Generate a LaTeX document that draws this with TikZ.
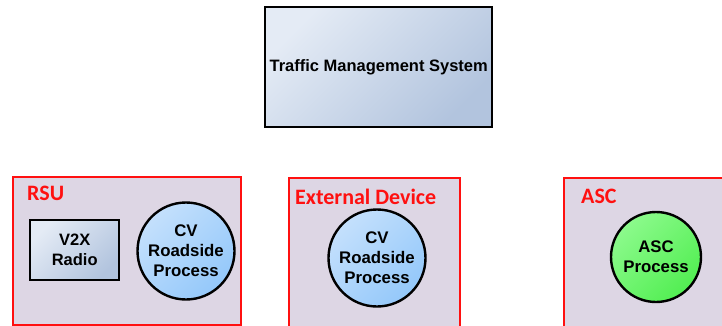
\documentclass[tikz,border=0pt]{standalone}
\usepackage{fontspec}
\setmainfont{Liberation Sans}
\newfontfamily\calib{Carlito}
\definecolor{contfill}{HTML}{DDD6E4}
\definecolor{redline}{HTML}{FF1010}
\definecolor{boxA}{HTML}{E4EBF5}
\definecolor{boxB}{HTML}{B2C4DE}
\definecolor{cirA}{HTML}{C4E0FC}
\definecolor{cirB}{HTML}{94C8FA}
\definecolor{grA}{HTML}{8CFA8C}
\definecolor{grB}{HTML}{52EE52}
\tikzset{
  container/.style={draw=redline, line width=1.6pt, fill=contfill, anchor=north west, inner sep=0pt},
  contlabel/.style={text=redline, font=\calib\bfseries\fontsize{22}{24}\selectfont, anchor=base west, inner sep=0pt},
  blockbox/.style={draw=black, line width=2.4pt, top color=boxA, bottom color=boxB, shading angle=45, anchor=north west, inner sep=0pt, align=center, font=\bfseries\fontsize{16.5}{20}\selectfont},
  process/.style={circle, draw=black, line width=2.4pt, inner sep=0pt, align=center, font=\bfseries\fontsize{16.8}{20}\selectfont},
  blueproc/.style={process, top color=cirA, bottom color=cirB, shading angle=45},
  greenproc/.style={process, top color=grA, bottom color=grB, shading angle=45}
}
\begin{document}
\begin{tikzpicture}[x=1pt,y=1pt]
\useasboundingbox (0,0) rectangle (722,-326);
\clip (0,0) rectangle (722,-326);
\fill[white] (0,0) rectangle (722,-326);
% TMS
\node[blockbox, minimum width=227, minimum height=120] (tms) at (264,-6) {Traffic Management System};
% containers
\node[container, minimum width=228, minimum height=148] (rsu) at (12,-176) {};
\node[container, minimum width=171, minimum height=160] (ext) at (288,-177) {};
\node[container, minimum width=170, minimum height=160] (asc) at (563,-177) {};
\node[contlabel] (rsulab) at (27,-200) {RSU};
\node[contlabel] (extlab) at (295,-204) {External Device};
\node[contlabel] (asclab) at (581,-203) {ASC};
% inner
\node[blockbox, minimum width=89, minimum height=60] (v2x) at (29,-219) {V2X\\Radio};
\node[blueproc, minimum size=97] (cv1) at (186,-251) {CV\\Roadside\\Process};
\node[blueproc, minimum size=97] (cv2) at (377,-258) {CV\\Roadside\\Process};
\node[greenproc, minimum size=90] (ascp) at (656,-257) {ASC\\Process};
\end{tikzpicture}
\end{document}
